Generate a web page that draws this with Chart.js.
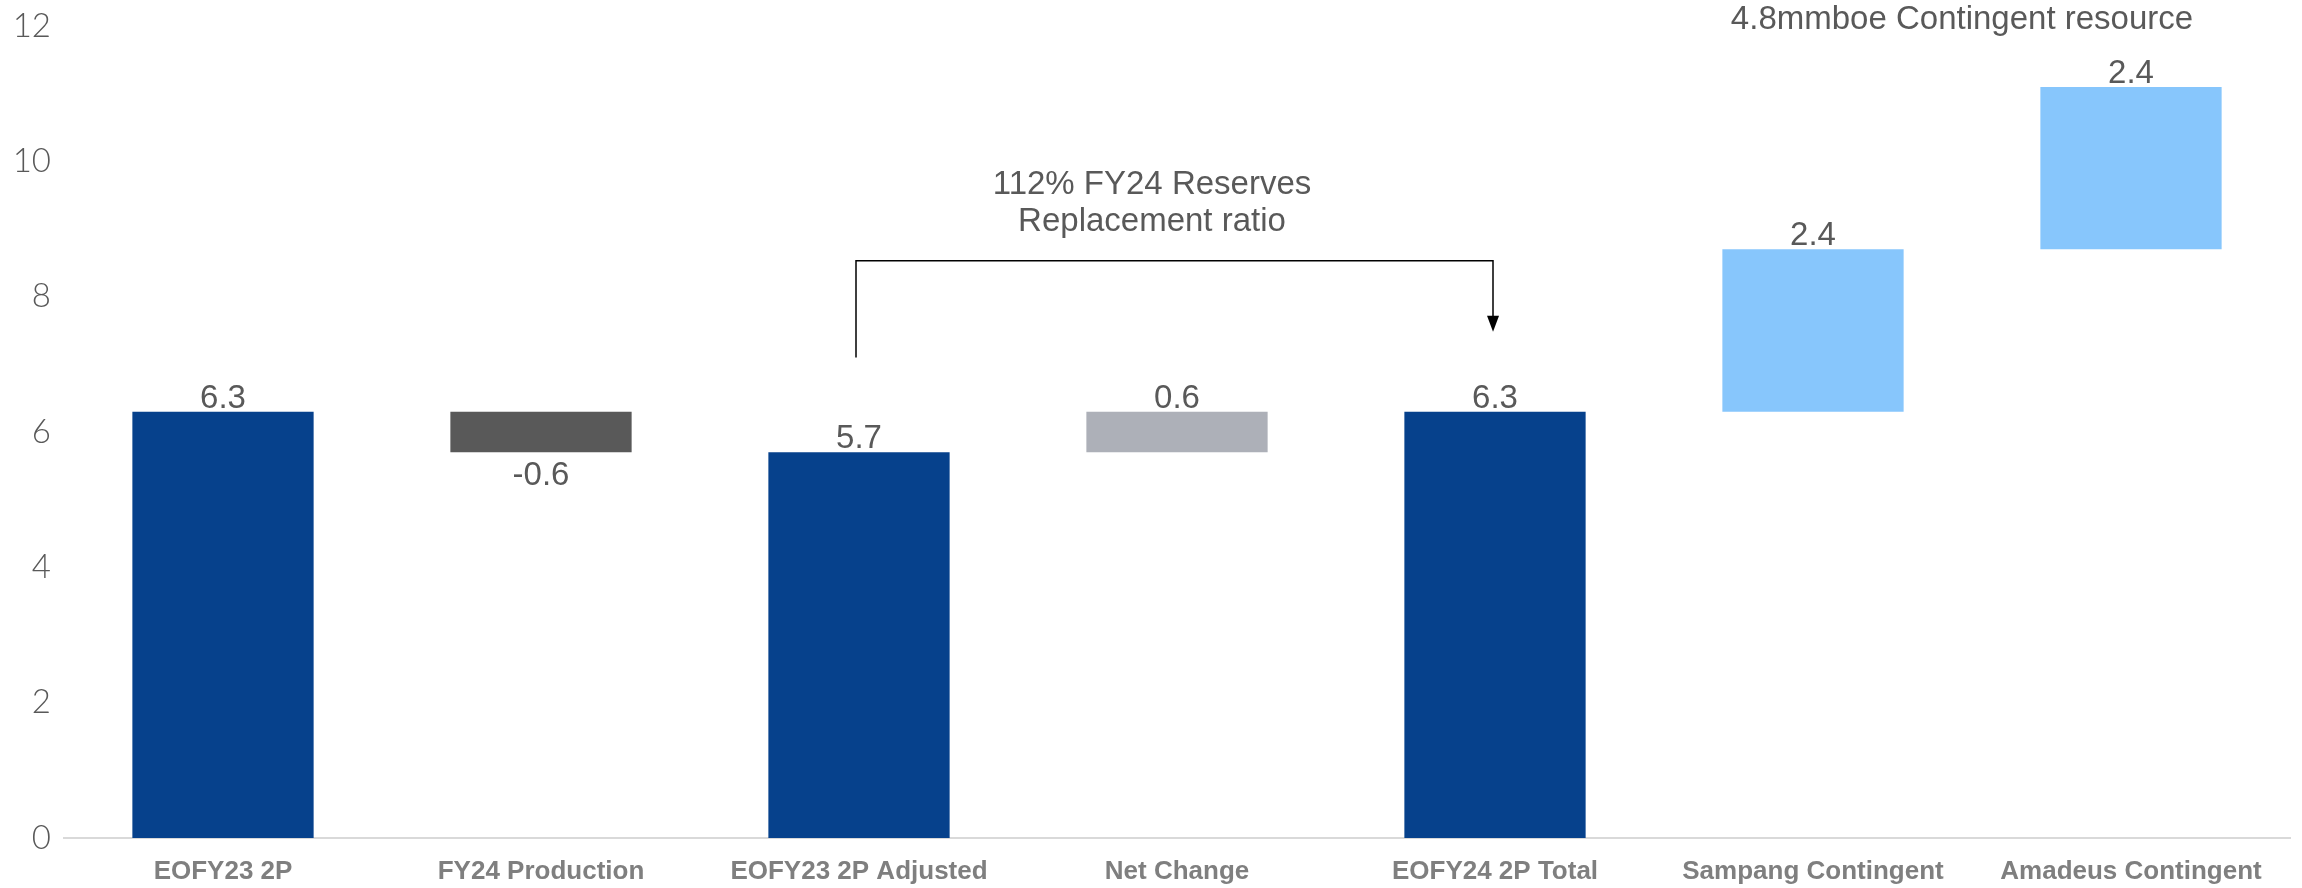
<!DOCTYPE html>
<html>
<head>
<meta charset="utf-8">
<script src="https://cdn.jsdelivr.net/npm/chart.js@4.4.0/dist/chart.umd.min.js"></script>
<style>
  html, body { margin: 0; padding: 0; background: #fff; }
  #wrap { width: 2302px; height: 888px; }
</style>
</head>
<body>
<div id="wrap"><canvas id="myChart" width="2302" height="888"></canvas></div>
<script>
// categories and bar ranges (mmboe)
const categories = ['EOFY23 2P', 'FY24 Production', 'EOFY23 2P Adjusted', 'Net Change', 'EOFY24 2P Total', 'Sampang Contingent', 'Amadeus Contingent'];
const barLow  = [0, 5.7, 0, 5.7, 0, 6.3, 8.7];
const barHigh = [6.3, 6.3, 5.7, 6.3, 6.3, 8.7, 11.1];
const valueLabels = [6.3, -0.6, 5.7, 0.6, 6.3, 2.4, 2.4];
const barColors = ['#06418c', '#595959', '#06418c', '#adb0b8', '#06418c', '#87c6fc', '#87c6fc'];
const yTicks = [0, 2, 4, 6, 8, 10, 12];

const ranges = barLow.map((lo, i) => [lo, barHigh[i]]);

// value labels above / below each bar + annotations
const overlay = {
    id: 'overlay',
    afterDatasetsDraw(chart) {
        const ctx = chart.ctx;
        const x = chart.scales.x, y = chart.scales.y;
        const meta = chart.getDatasetMeta(0);
        ctx.save();
        ctx.fillStyle = '#595959';
        ctx.font = '33px "Liberation Sans", Arial, sans-serif';
        ctx.textAlign = 'center';
        ctx.textBaseline = 'alphabetic';
        meta.data.forEach((bar, i) => {
            const v = valueLabels[i];
            const txt = v.toFixed(1);
            if (v < 0) {
                ctx.fillText(txt, bar.x, y.getPixelForValue(barLow[i]) + 33);
            } else {
                ctx.fillText(txt, bar.x, y.getPixelForValue(barHigh[i]) - 4);
            }
        });

        // replacement ratio note
        ctx.textBaseline = 'middle';
        const noteX = x.getPixelForValue(3) - 25;
        ctx.fillText('112% FY24 Reserves', noteX, y.getPixelForValue(9.65));
        ctx.fillText('Replacement ratio', noteX, y.getPixelForValue(9.11));

        // contingent note
        const cx = (x.getPixelForValue(5) + x.getPixelForValue(6)) / 2 - 10;
        ctx.fillText('4.8mmboe Contingent resource', cx, y.getPixelForValue(12.09));

        // bracket arrow from adjusted to total
        const x1 = x.getPixelForValue(2) - 3, x2 = x.getPixelForValue(4) - 2;
        const yTop = y.getPixelForValue(8.53);
        const yL = y.getPixelForValue(7.1);
        const tip = y.getPixelForValue(7.48);
        ctx.strokeStyle = '#000';
        ctx.lineWidth = 1.5;
        ctx.beginPath();
        ctx.moveTo(x1, yL);
        ctx.lineTo(x1, yTop);
        ctx.lineTo(x2, yTop);
        ctx.lineTo(x2, tip - 14);
        ctx.stroke();
        ctx.fillStyle = '#000';
        ctx.beginPath();
        ctx.moveTo(x2 - 6, tip - 16);
        ctx.lineTo(x2 + 6, tip - 16);
        ctx.lineTo(x2, tip);
        ctx.closePath();
        ctx.fill();
        ctx.restore();
    }
};

const ctx = document.getElementById('myChart').getContext('2d');
const myChart = new Chart(ctx, {
    type: 'bar',
    data: {
        labels: categories,
        datasets: [{
            data: ranges,
            backgroundColor: barColors,
            borderWidth: 0,
            borderSkipped: false,
            categoryPercentage: 1,
            barPercentage: 0.57
        }]
    },
    options: {
        responsive: false,
        animation: false,
        layout: { padding: { top: 26, right: 12, left: 0, bottom: 0 } },
        plugins: {
            legend: { display: false },
            tooltip: { enabled: false }
        },
        scales: {
            x: {
                afterFit: s => { s.height = 50; },
                grid: { display: false, drawTicks: false },
                border: { display: true, color: '#d9d9d9', width: 2 },
                ticks: {
                    color: '#7f7f7f',
                    padding: 18,
                    maxRotation: 0,
                    font: { family: '"Liberation Sans", Arial, sans-serif', size: 26, weight: 'bold' }
                }
            },
            y: {
                min: 0,
                max: 12,
                afterBuildTicks: s => { s.ticks = yTicks.map(v => ({ value: v })); },
                afterFit: s => { s.width = 64; s.paddingTop = 0; s.paddingBottom = 0; },
                grid: { display: false, drawTicks: false },
                border: { display: false },
                ticks: {
                    color: '#595959',
                    padding: 13,
                    font: { family: 'Lato, "Noto Sans", sans-serif', size: 33, weight: '300' }
                }
            }
        }
    },
    plugins: [overlay]
});
</script>
</body>
</html>
